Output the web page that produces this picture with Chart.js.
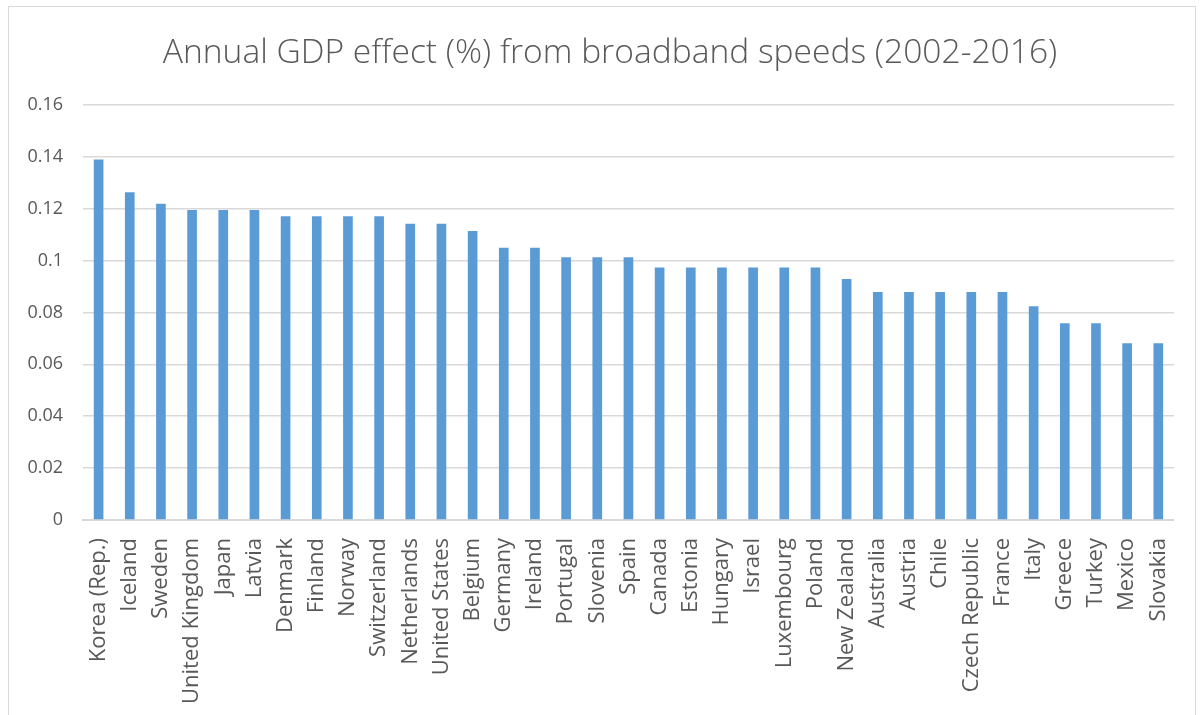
<!DOCTYPE html>
<html>
<head>
<meta charset="utf-8">
<script src="https://cdn.jsdelivr.net/npm/chart.js@4.4.1/dist/chart.umd.min.js"></script>
<style>
    html, body { margin: 0; padding: 0; background: #fff; }
    .frame { position: absolute; left: 8px; top: 6px; width: 1186px; height: 760px; border: 1px solid #d9d9d9; }
    .wrap { position: absolute; left: 0; top: 0; width: 1203px; height: 715px; }
</style>
</head>
<body>
<div class="frame"></div>
<div class="wrap"><canvas id="gdpChart" width="1203" height="715"></canvas></div>
<script>
const countries = [
    'Korea (Rep.)', 'Iceland', 'Sweden', 'United Kingdom', 'Japan', 'Latvia', 'Denmark',
    'Finland', 'Norway', 'Switzerland', 'Netherlands', 'United States', 'Belgium', 'Germany',
    'Ireland', 'Portugal', 'Slovenia', 'Spain', 'Canada', 'Estonia', 'Hungary', 'Israel',
    'Luxembourg', 'Poland', 'New Zealand', 'Australia', 'Austria', 'Chile', 'Czech Republic',
    'France', 'Italy', 'Greece', 'Turkey', 'Mexico', 'Slovakia'
];
const gdpEffect = [
    0.139, 0.1263, 0.1219, 0.1195, 0.1195, 0.1195, 0.1171,
    0.1171, 0.1171, 0.1171, 0.1142, 0.1142, 0.1114, 0.1049,
    0.1049, 0.1013, 0.1013, 0.1013, 0.0973, 0.0973, 0.0973, 0.0973,
    0.0973, 0.0973, 0.0929, 0.0879, 0.0879, 0.0879, 0.0879,
    0.0879, 0.0824, 0.0758, 0.0758, 0.0681, 0.0681
];
const yTicks = [0, 0.02, 0.04, 0.06, 0.08, 0.1, 0.12, 0.14, 0.16];

const textColor = '#595959';
const gridColor = '#d9d9d9';

// the original title sits a bit right of the canvas centre
const nudgeTitle = {
    id: 'nudgeTitle',
    afterLayout: chart => {
        if (!chart.titleBlock) return;
        chart.titleBlock.left += 18.5;
        chart.titleBlock.right += 18.5;
    }
};

new Chart(document.getElementById('gdpChart'), {
    type: 'bar',
    data: {
        labels: countries,
        datasets: [{ data: gdpEffect, backgroundColor: '#5b9bd5', barPercentage: 0.31, categoryPercentage: 1 }]
    },
    options: {
        responsive: false,
        animation: false,
        layout: { padding: { left: 0, right: 20, top: 0, bottom: 0 } },
        plugins: {
            legend: { display: false },
            tooltip: { enabled: false },
            title: {
                display: true,
                text: 'Annual GDP effect (%) from broadband speeds (2002-2016)',
                color: textColor,
                font: { family: '"Open Sans", sans-serif', size: 33.6, weight: 300 },
                padding: { top: 33, bottom: 31.6 }
            }
        },
        scales: {
            x: {
                grid: { display: false, drawTicks: false },
                border: { display: true, color: gridColor, width: 2 },
                ticks: {
                    color: textColor,
                    font: { family: '"Open Sans", sans-serif', size: 22 },
                    minRotation: 90, maxRotation: 90, autoSkip: false, padding: 18
                },
                afterFit: scale => { scale.height = 195; }
            },
            y: {
                min: 0, max: 0.16,
                afterBuildTicks: scale => { scale.ticks = yTicks.map(v => ({ value: v })); },
                grid: { color: gridColor, lineWidth: 1.5, drawTicks: false },
                border: { display: false },
                ticks: {
                    color: textColor,
                    font: { family: '"Open Sans", sans-serif', size: 18 },
                    padding: 20,
                    callback: v => String(Math.round(v * 100) / 100)
                },
                afterFit: scale => { scale.width = 83; }
            }
        }
    },
    plugins: [nudgeTitle]
});
</script>
</body>
</html>
